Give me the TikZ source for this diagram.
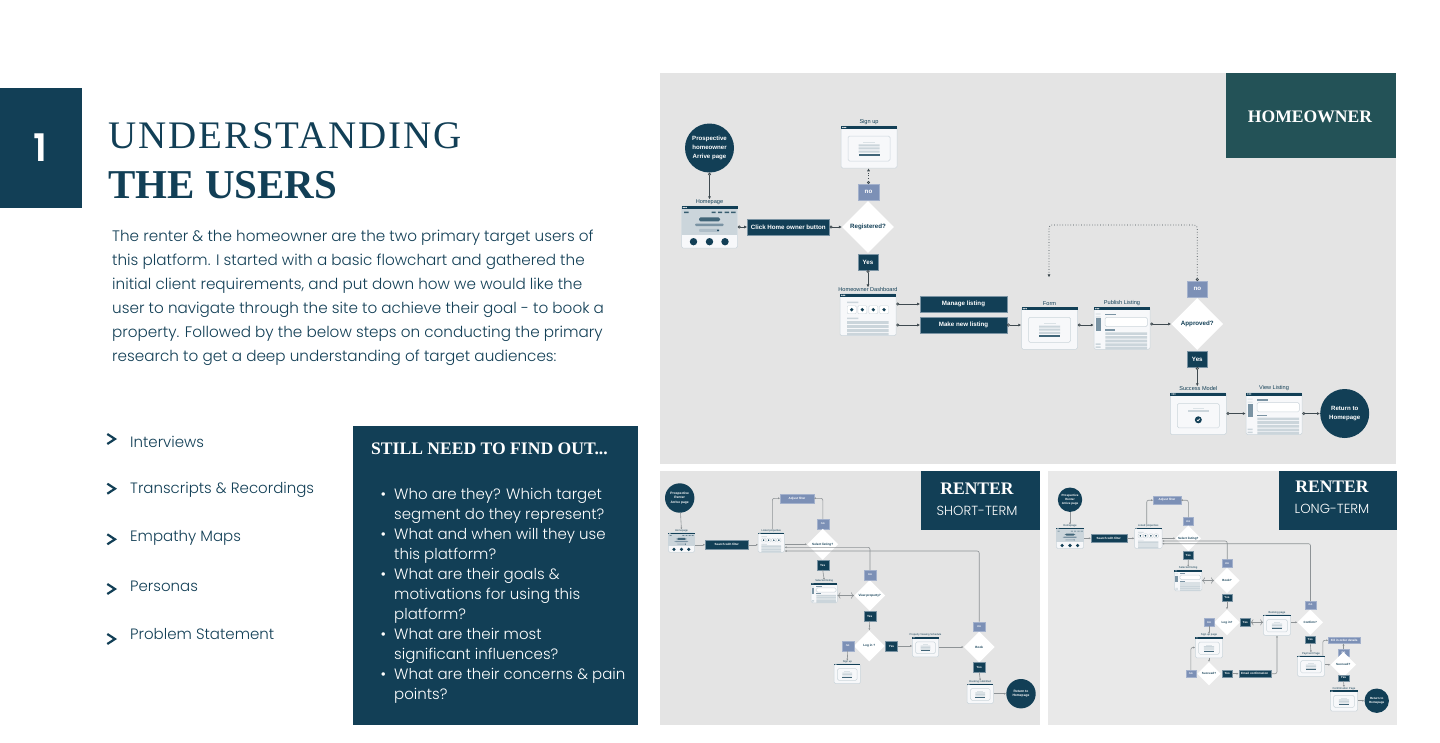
\documentclass[tikz,border=0pt]{standalone}
\usepackage{fontspec}
\setmainfont{Poppins}[UprightFont=* Light, BoldFont=* SemiBold]
\newfontfamily\flowfont{Liberation Sans}
\newfontfamily\headfont{Liberation Serif}
\newfontfamily\titlefont[LetterSpace=5]{Liberation Serif}
\usetikzlibrary{calc,arrows.meta,shapes.geometric}
\definecolor{navy}{HTML}{123F56}
\definecolor{tealbox}{HTML}{235257}
\definecolor{steel}{HTML}{7C90B6}
\definecolor{panelgray}{HTML}{E4E4E4}
\definecolor{panellight}{HTML}{E9E9E9}
\definecolor{wireline}{HTML}{CBD5DB}
\definecolor{wiremid}{HTML}{7A93A3}
\definecolor{wirepale}{HTML}{F7F8FA}
\definecolor{edgedark}{HTML}{3F4A50}
\definecolor{edgelight}{HTML}{8E9396}

% browser window shared by all wireframes
\newcommand{\windowframe}[1]{%
  \node[windowbox] (-box) at (0,0) {};
  \node[windowtitle] (-label) at (0,-25) {#1};
  \fill[navy] (-28,-21) rectangle (28,-18);
  \fill[white] (-26.3,-19.5) circle (.6) (-24.8,-19.5) circle (.6) (-23.3,-19.5) circle (.6);
}
\tikzset{
  pics/formscreen/.style={code={
    \windowframe{#1}
    \draw[wireline, fill=wirepale, rounded corners=1.5pt, line width=0.5pt] (-21,-11) rectangle (21,14);
    \fill[wireline!70] (-6,-5.5) rectangle (6,-4);
    \fill[wireline] (-10.5,-2.7) rectangle (10.5,-.7) (-10.5,.3) rectangle (10.5,2.3) (-10.5,3.6) rectangle (10.5,5.6);
    \fill[navy!80] (-10.5,6.8) rectangle (10.5,8.8);
  }},
  pics/modalscreen/.style={code={
    \windowframe{#1}
    \draw[wireline, fill=wirepale, rounded corners=1.5pt, line width=0.5pt] (-21,-10) rectangle (21,14.3);
    \fill[wireline!70] (-5.5,-6) rectangle (5.5,-4.5);
    \fill[wireline] (-10.5,-3.2) rectangle (10.5,-1.4);
    \fill[navy] (0,6.3) circle (3.5);
    \draw[white, line width=0.7pt] (-1.5,6.3) -- (-.4,7.4) -- (1.5,5.2);
  }},
  pics/listingscreen/.style={code={
    \windowframe{#1}
    \fill[wireline!70] (-26.3,-15) rectangle (-21.3,-13.8) (-26.3,-12) rectangle (-21.3,-10.8);
    \fill[wiremid] (-26.3,-10) rectangle (-21.3,3);
    \fill[wireline] (-26.3,15) rectangle (-21.3,16.5) (-26.3,18) rectangle (-21.3,19.5);
    \fill[wiremid] (-16.7,-14.4) rectangle (-5.7,-13);
    \draw[wireline, fill=white, rounded corners=1.5pt, line width=0.5pt] (-17,-11) rectangle (25.3,-1.7);
    \fill[wiremid] (-16.7,1) rectangle (-7,2.4);
    \fill[wireline] (-16.7,4) rectangle (25,6.6) (-16.7,7.7) rectangle (25,10.3)
      (-16.7,11.4) rectangle (25,14) (-16.7,15) rectangle (25,17.6) (-16.7,18.4) rectangle (25,21);
  }},
  pics/homescreen/.style={code={
    \windowframe{#1}
    \fill[wireline] (-27.7,-18) rectangle (27.7,8);
    \fill[navy!85] (-25.5,-15.3) rectangle (-21,-14)
      (2,-15.3) rectangle (6,-14) (8.5,-15.3) rectangle (12.7,-14)
      (15,-15.3) rectangle (19.5,-14) (21.5,-15.3) rectangle (26,-14);
    \fill[navy!80, rounded corners=1.5pt] (-10.5,-9.7) rectangle (10.5,-5.7);
    \fill[wiremid, rounded corners=1pt] (-14.5,-3.5) rectangle (14,-1);
    \fill[wiremid!60, rounded corners=1pt] (-10.5,1.8) rectangle (10,4.8);
    \fill[navy] (8.5,3.3) circle (1);
    \fill[navy] (-16,14.7) circle (3.7) (0,14.7) circle (3.7) (15.5,14.7) circle (3.7);
  }},
  pics/dashscreen/.style={code={
    \windowframe{#1}
    \fill[wireline] (-21,-13) rectangle (-9.7,-11.6) (-21,3) rectangle (-9.7,4.4);
    \draw[wireline, fill=white, rounded corners=1pt, line width=0.4pt]
      (-20.8,-9) rectangle (-11.8,-1) (-10.2,-9) rectangle (-1.2,-1)
      (.8,-9) rectangle (9.8,-1) (11.5,-9) rectangle (20.5,-1);
    \fill[navy] (-16.3,-5) circle (1.8) (-5.7,-5) circle (1.8) (5.3,-5) circle (1.8) (16,-5) circle (1.8);
    \fill[wireline] (-21,6.3) rectangle (20.7,9.1) (-21,10.3) rectangle (20.7,13.1)
      (-21,14.3) rectangle (20.7,17.1) (-21,18.2) rectangle (20.7,20.7);
  }}
}

\begin{document}
\begin{tikzpicture}[
    x=1pt, y=-1pt,
    windowbox/.style={draw=wireline, line width=0.5pt, rounded corners=1.5pt, fill=wirepale,
                      minimum width=56pt, minimum height=42pt, inner sep=0pt},
    windowtitle/.style={text=navy, inner sep=0pt, font=\flowfont\fontsize{5.6}{7}\selectfont},
    startcircle/.style={circle, fill=navy, text=white, align=center, inner sep=0pt,
                        minimum size=49pt, font=\flowfont\bfseries\fontsize{6.1}{8.6}\selectfont},
    actionbox/.style={draw=wiremid, line width=0.3pt, fill=navy, text=white, inner sep=0pt,
                      minimum height=15.6pt, font=\flowfont\bfseries\fontsize{6.2}{8}\selectfont},
    yesbox/.style={actionbox, minimum width=20.5pt},
    nobox/.style={actionbox, fill=steel, draw=steel!70, minimum width=20.5pt},
    filterbox/.style={nobox},
    decision/.style={diamond, aspect=1, fill=white, text=navy, inner sep=0pt, minimum size=52pt,
                     font=\flowfont\bfseries\fontsize{6.2}{8}\selectfont},
    shortflow/.style={minimum width=12pt, minimum height=9.4pt, line width=0.2pt,
                      font=\flowfont\bfseries\fontsize{3}{3.8}\selectfont},
    longflow/.style={minimum width=10.2pt, minimum height=7.6pt, line width=0.2pt,
                     font=\flowfont\bfseries\fontsize{3}{3.6}\selectfont},
    shortdecision/.style={minimum size=31pt, font=\flowfont\bfseries\fontsize{3.1}{3.8}\selectfont},
    longdecision/.style={minimum size=25.6pt, font=\flowfont\bfseries\fontsize{3}{3.6}\selectfont},
    arrow/.style={{Circle[open, fill=panelgray, length=3pt, width=3pt]}-{Latex[length=3pt, width=3pt]},
                  draw=edgedark, line width=0.7pt},
    retry/.style={{Circle[open, fill=panelgray, length=3pt, width=3pt]}-{Latex[length=3pt, width=3pt]},
                  draw=edgedark, line width=0.7pt, dotted, rounded corners=3pt},
    thinarrow/.style={-{Latex[length=2pt, width=2pt]}, draw=edgelight, line width=0.6pt, rounded corners=2pt},
    headline/.style={anchor=base west, text=navy, inner sep=0pt},
    listitem/.style={anchor=west, text=navy, inner sep=0pt, font=\fontsize{15}{18}\selectfont},
    chevron/.style={draw=navy, line width=2.2pt},
    persona/.style={text=white, inner sep=0pt, font=\headfont\bfseries\fontsize{17.6}{22}\selectfont},
    personasub/.style={text=white, inner sep=0pt, font=\fontsize{13.2}{16}\selectfont}
  ]
    \useasboundingbox[fill=white] (0,0) rectangle (1440,742);

    % left column: number, title and text
    \fill[navy] (0,88) rectangle (82,208);
    \node[text=white, inner sep=0pt, font=\bfseries\fontsize{38}{40}\selectfont] (number) at (40,148) {1};
    \node[headline, font=\titlefont\fontsize{39}{44}\selectfont] (titleone) at (108,148) {UNDERSTANDING};
    \node[headline, font=\headfont\bfseries\fontsize{41}{46}\selectfont] (titletwo) at (108,198) {THE USERS};
    \node[anchor=north west, align=left, text=navy, inner sep=0pt, font=\fontsize{15.2}{24}\selectfont] (intro) at (112,230) {%
      The renter \& the homeowner are the two primary target users of\\
      this platform. I started with a basic flowchart and gathered the\\
      initial client requirements, and put down how we would like the\\
      user to navigate through the site to achieve their goal - to book a\\
      property. Followed by the below steps on conducting the primary\\
      research to get a deep understanding of target audiences:};

    % research steps
    \draw[chevron] (107.3,434) -- (115,439) -- (107.3,444);
    \draw[chevron] (107.3,483.7) -- (115,488.7) -- (107.3,493.7);
    \draw[chevron] (107.3,534.3) -- (115,539.3) -- (107.3,544.3);
    \draw[chevron] (107.3,584) -- (115,589) -- (107.3,594);
    \draw[chevron] (107.3,634) -- (115,639) -- (107.3,644);
    \node[listitem] (stepa) at (130,442) {Interviews};
    \node[listitem] (stepb) at (130,490) {Transcripts \& Recordings};
    \node[listitem] (stepc) at (130,538) {Empathy Maps};
    \node[listitem] (stepd) at (130,586) {Personas};
    \node[listitem] (stepe) at (130,634) {Problem Statement};

    % open questions
    \fill[navy] (353,426) rectangle (638,725);
    \node[anchor=west, text=white, inner sep=0pt, font=\headfont\bfseries\fontsize{17.6}{20}\selectfont] (questionhead) at (371,449) {STILL NEED TO FIND OUT...};
    \node[anchor=north west, align=left, text=white, inner sep=0pt, font=\fontsize{15}{20}\selectfont] (questions) at (394,488) {%
      \llap{\textbullet\hspace{8pt}}Who are they? Which target\\
      segment do they represent?\\
      \llap{\textbullet\hspace{8pt}}What and when will they use\\
      this platform?\\
      \llap{\textbullet\hspace{8pt}}What are their goals \&\\
      motivations for using this\\
      platform?\\
      \llap{\textbullet\hspace{8pt}}What are their most\\
      significant influences?\\
      \llap{\textbullet\hspace{8pt}}What are their concerns \& pain\\
      points?};

    % panels
    \fill[panelgray] (660,73) rectangle (1396,464);
    \fill[panelgray] (660,471) rectangle (1040,725);
    \fill[panellight] (1048,471) rectangle (1397,725);
    \fill[tealbox] (1226,73) rectangle (1396,158);
    \fill[navy] (921,471) rectangle (1040,530);
    \fill[navy] (1279,471) rectangle (1397,530);
    \node[persona] (homeowner) at (1310,117) {HOMEOWNER};
    \node[persona] (rentershort) at (977,489) {RENTER};
    \node[personasub] (shortterm) at (977,511) {SHORT-TERM};
    \node[persona] (renterlong) at (1332,487) {RENTER};
    \node[personasub] (longterm) at (1332,509) {LONG-TERM};

    % homeowner flow
    \node[startcircle] (ownerstart) at (709.5,148) {Prospective\\homeowner\\Arrive page};
    \pic (ownerhome) at (709.5,227) {homescreen={Homepage}};
    \node[actionbox, minimum width=82pt] (clickbtn) at (788.3,227) {Click Home owner button};
    \node[decision] (registered) at (868,227) {Registered?};
    \node[nobox] (regno) at (868.5,192) {no};
    \pic (signup) at (869,147) {formscreen={Sign up}};
    \node[yesbox] (regyes) at (868,262) {Yes};
    \pic (dashboard) at (868,314.7) {dashscreen={Homeowner Dashboard}};
    \node[actionbox, minimum width=86.4pt] (manage) at (963.5,304) {Manage listing};
    \node[actionbox, minimum width=86.4pt] (makenew) at (963.5,325) {Make new listing};
    \pic (form) at (1049.5,328.3) {formscreen={Form}};
    \pic (publish) at (1122,328.3) {listingscreen={Publish Listing}};
    \node[decision] (approved) at (1197.3,324) {Approved?};
    \node[nobox] (apprno) at (1197.3,289) {no};
    \node[yesbox] (appryes) at (1197.3,359) {Yes};
    \pic (success) at (1198.3,413.5) {modalscreen={Success Model}};
    \pic (viewlisting) at (1274,413.5) {listingscreen={View Listing}};
    \node[startcircle] (ownerreturn) at (1344.7,413.5) {Return to\\Homepage};
    \coordinate (formretry) at (1049,277.3);
    \coordinate (retrycorner) at (1197.3,225);

    \draw[arrow] (ownerstart) -- (ownerhome-label);
    \draw[arrow] (ownerhome-box.east) -- (clickbtn.west);
    \draw[arrow] (clickbtn.east) -- (registered.west);
    \draw[retry] (regno.north) -- (regno.north |- signup-box.south);
    \draw[arrow] (regyes.south) -- (regyes.south |- dashboard-label.north);
    \draw[arrow] (dashboard-box.east |- manage.west) -- (manage.west);
    \draw[arrow] (dashboard-box.east |- makenew.west) -- (makenew.west);
    \draw[arrow] (makenew.east) -- (form-box.west |- makenew.east);
    \draw[arrow] (form-box.east |- makenew.east) -- (publish-box.west |- makenew.east);
    \draw[arrow] (publish-box.east |- approved.west) -- (approved.west);
    \draw[retry] (apprno.north) -- (retrycorner) -| (formretry);
    \draw[arrow] (appryes.south) -- (appryes.south |- success-label.north);
    \draw[arrow] (success-box.east) -- (viewlisting-box.west);
    \draw[arrow] (viewlisting-box.east) -- (ownerreturn.west);

    % renter, short-term flow
    \begin{scope}[startcircle/.append style={minimum size=29.4pt, font=\flowfont\bfseries\fontsize{3.3}{4.4}\selectfont},
                  every pic/.style={scale=0.47, transform shape}]
      \node[startcircle] (shortstart) at (679.7,498) {Prospective\\Renter\\Arrive page};
      \pic (shorthome) at (681.5,542.5) {homescreen={Homepage}};
      \node[actionbox, shortflow, minimum width=43pt] (shortsearch) at (726.8,544.8) {Search with filter};
      \pic (shortlisted) at (771.3,542.5) {dashscreen={Listed properties}};
      \node[filterbox, shortflow, minimum width=33.7pt] (shortadjust) at (797,498.3) {Adjust filter};
      \node[nobox, shortflow] (shortselno) at (822.8,524) {no};
      \node[decision, shortdecision] (shortselect) at (822.7,544.3) {Select listing?};
      \node[yesbox, shortflow] (shortselyes) at (822.7,565) {Yes};
      \pic (shortselected) at (824.2,593) {listingscreen={Selected listing}};
      \node[decision, shortdecision] (shortview) at (869.7,595.5) {View property?};
      \node[nobox, shortflow] (shortviewno) at (870,575) {no};
      \node[yesbox, shortflow] (shortviewyes) at (869.7,616.2) {Yes};
      \node[decision, shortdecision] (shortlogin) at (869.3,646) {Log in ?};
      \node[yesbox, shortflow] (shortloginyes) at (891.5,646) {Yes};
      \node[nobox, shortflow] (shortloginno) at (847.7,646) {no};
      \pic (shortsignup) at (847.3,673.8) {formscreen={Sign up}};
      \pic (shortschedule) at (925.5,647) {formscreen={Property Viewing Schedule}};
      \node[decision, shortdecision] (shortbook) at (979.3,647) {Book};
      \node[nobox, shortflow] (shortbookno) at (979.2,626.3) {no};
      \node[yesbox, shortflow] (shortbookyes) at (979.2,667) {Yes};
      \pic (shortsubmitted) at (980.3,693.7) {formscreen={Booking submitted}};
      \node[startcircle] (shortreturn) at (1021,693.7) {Return to\\Homepage};
      \coordinate (shortbacka) at (870,547.3);
      \coordinate (shortbackb) at (979.2,551);

      \draw[thinarrow] (shortstart) -- (shorthome-label);
      \draw[thinarrow] (shorthome-box.east |- shortsearch.west) -- (shortsearch.west);
      \draw[thinarrow] (shortsearch.east) -- (shortlisted-box.west |- shortsearch.east);
      \draw[thinarrow] (shortlisted-label.north -| 772.3,0) |- (shortadjust.west);
      \draw[thinarrow] (shortselno.north) |- (shortadjust.east);
      \draw[thinarrow] (shortlisted-box.east |- shortselect.west) -- (shortselect.west);
      \draw[thinarrow] (shortviewno.north) -- (shortbacka) -- (shortlisted-box.east |- shortbacka);
      \draw[thinarrow] (shortbookno.north) -- (shortbackb) -- (shortlisted-box.east |- shortbackb);
      \draw[thinarrow] (shortselyes.south) -- (shortselected-label.north);
      \draw[thinarrow, <->] (shortview.west) -- (shortselected-box.east |- shortview.west);
      \draw[thinarrow] (shortviewyes.south) -- (shortlogin.north);
      \draw[thinarrow] (shortloginno.south) -- (shortsignup-label.north);
      \draw[thinarrow] (shortloginyes.east) -- (shortschedule-box.west |- shortloginyes.east);
      \draw[thinarrow] (shortschedule-box.east) -- (shortbook.west);
      \draw[thinarrow] (shortbookyes.south) -- (shortsubmitted-label.north);
      \draw[thinarrow] (shortsubmitted-box.east) -- (shortreturn.west);
    \end{scope}

    % renter, long-term flow
    \begin{scope}[startcircle/.append style={minimum size=24.4pt, font=\flowfont\bfseries\fontsize{3}{3.9}\selectfont},
                  every pic/.style={scale=0.49, transform shape}]
      \node[startcircle] (longstart) at (1070,499.7) {Prospective\\Renter\\Arrive page};
      \pic (longhome) at (1070,538.3) {homescreen={Homepage}};
      \node[actionbox, longflow, minimum width=35.7pt] (longsearch) at (1108.8,538.3) {Search with filter};
      \pic (longlisted) at (1148.3,538.3) {dashscreen={Listed properties}};
      \node[filterbox, longflow, minimum width=27.4pt] (longadjust) at (1167,500.2) {Adjust filter};
      \node[nobox, longflow] (longselno) at (1188.3,521.2) {no};
      \node[decision, longdecision] (longselect) at (1188.3,538.3) {Select listing?};
      \node[yesbox, longflow] (longselyes) at (1188.3,555.3) {Yes};
      \pic (longselected) at (1188.2,580.5) {listingscreen={Selected listing}};
      \node[nobox, longflow] (longbookno) at (1227.2,563.2) {no};
      \node[decision, longdecision] (longbook) at (1227,580.5) {Book?};
      \node[yesbox, longflow] (longbookyes) at (1227,597.5) {Yes};
      \node[decision, longdecision] (longlogin) at (1227,622.3) {Log in?};
      \node[nobox, longflow] (longloginno) at (1209,622.3) {no};
      \node[yesbox, longflow] (longloginyes) at (1245.3,622.3) {Yes};
      \pic (longsignup) at (1209,647.5) {formscreen={Sign up page}};
      \node[decision, longdecision, minimum size=23.4pt] (longsucceed) at (1209,673.7) {Succeed?};
      \node[nobox, longflow] (longsucceedno) at (1190.8,673.7) {no};
      \node[yesbox, longflow] (longsucceedyes) at (1227.2,673.7) {Yes};
      \node[actionbox, longflow, minimum width=32pt] (longemail) at (1254.7,673.7) {Email confirmation};
      \pic (longbooking) at (1277,625) {formscreen={Booking page}};
      \node[decision, longdecision] (longconfirm) at (1310.3,622.3) {Confirm?};
      \node[nobox, longflow] (longconfirmno) at (1310.5,605) {no};
      \node[yesbox, longflow] (longconfirmyes) at (1310.3,639.5) {Yes};
      \pic (longpayment) at (1311,666) {formscreen={Payment Page}};
      \node[filterbox, longflow, minimum width=31.7pt, minimum height=6.2pt] (longorder) at (1344.2,640.3) {Fill in order details};
      \node[nobox, longflow, minimum height=6.7pt] (longpayno) at (1343.5,652.3) {no};
      \node[decision, longdecision] (longpaid) at (1343.3,664.7) {Succeed?};
      \node[yesbox, longflow, minimum height=6.4pt] (longpaidyes) at (1343.5,677.8) {Yes};
      \pic (longconfirmation) at (1344,700.7) {formscreen={Confirmation Page}};
      \node[startcircle] (longreturn) at (1376.7,700.7) {Return to\\Homepage};
      \coordinate (longbacka) at (1227.2,541);
      \coordinate (longbackb) at (1310.5,543.7);

      \draw[thinarrow] (longstart) -- (longhome-label);
      \draw[thinarrow] (longhome-box.east) -- (longsearch.west);
      \draw[thinarrow] (longsearch.east) -- (longlisted-box.west);
      \draw[thinarrow] (longlisted-label.north -| 1146.7,0) |- (longadjust.west);
      \draw[thinarrow] (longselno.north) |- (longadjust.east);
      \draw[thinarrow] (longlisted-box.east) -- (longselect.west);
      \draw[thinarrow] (longbookno.north) -- (longbacka) -- (longlisted-box.east |- longbacka);
      \draw[thinarrow] (longconfirmno.north) -- (longbackb) -- (longlisted-box.east |- longbackb);
      \draw[thinarrow] (longselyes.south) -- (longselected-label.north);
      \draw[thinarrow, <->] (longbook.west) -- (longselected-box.east);
      \draw[thinarrow] (longbookyes.south) -- (longlogin.north);
      \draw[thinarrow] (longloginno.south) -- (longsignup-label.north);
      \draw[thinarrow] (longsignup-box.south) -- (longsucceed.north);
      \draw[thinarrow] (longsucceedno.north) |- (longsignup-box.west);
      \draw[thinarrow] (longsucceedyes.east) -- (longemail.west);
      \draw[thinarrow] (longemail.east) -| (longbooking-box.south);
      \draw[thinarrow, <->] (longloginyes.east) -- (longbooking-box.west |- longloginyes.east);
      \draw[thinarrow] (longbooking-box.east |- longconfirm.west) -- (longconfirm.west);
      \draw[thinarrow] (longconfirmyes.south) -- (longpayment-label.north);
      \draw[thinarrow] (longpayment-box.north east) ++(-2,0) |- (longorder.west);
      \draw[thinarrow] (longpayno.north) -- (longorder.south -| longpayno.north);
      \draw[thinarrow] (longpayment-box.east |- longpaid.west) -- (longpaid.west);
      \draw[thinarrow] (longpaidyes.south) -- (longconfirmation-label.north);
      \draw[thinarrow] (longconfirmation-box.east) -- (longreturn.west);
    \end{scope}
\end{tikzpicture}
\end{document}
